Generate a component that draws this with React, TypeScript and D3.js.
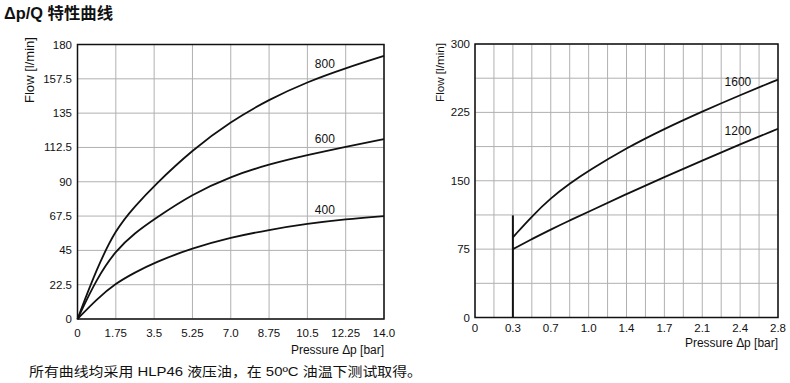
import React from "react";
import * as d3 from "d3";

// Left chart data
const leftTicksX = [0, 1.75, 3.5, 5.25, 7.0, 8.75, 10.5, 12.25, 14.0];
const leftTickLabelsX = ["0", "1.75", "3.5", "5.25", "7.0", "8.75", "10.5", "12.25", "14.0"];
const leftTicksY = [0, 22.5, 45, 67.5, 90, 112.5, 135, 157.5, 180];
const leftTickLabelsY = ["0", "22.5", "45", "67.5", "90", "112.5", "135", "157.5", "180"];
const leftX = [0, 0.875, 1.75, 2.625, 3.5, 5.25, 7.0, 8.75, 10.5, 12.25, 14];
const s800 = [0, 33, 59, 74, 87.5, 111, 129.5, 144, 155.5, 164.5, 172.5];
const s600 = [0, 26.5, 45, 56.5, 65.5, 82, 93.5, 101.5, 107.5, 113, 118];
const s400 = [0, 13, 23.5, 30.5, 37, 46.5, 53.5, 58.5, 62.5, 65.5, 67.5];
const leftSeriesNames = ["800", "600", "400"];
const leftLabelX = 11.3;

// Right chart data
const rightGridX = d3.range(0, 17).map((i) => i * 0.175);
const rightTicksX = [0, 0.35, 0.7, 1.05, 1.4, 1.75, 2.1, 2.45, 2.8];
const rightTickLabelsX = ["0", "0.3", "0.7", "1.0", "1.4", "1.7", "2.1", "2.4", "2.8"];
const rightGridY = d3.range(0, 9).map((i) => i * 37.5);
const rightTicksY = [0, 75, 150, 225, 300];
const rightTickLabelsY = ["0", "75", "150", "225", "300"];
const rightX = [0.35, 0.525, 0.7, 0.875, 1.05, 1.4, 1.75, 2.1, 2.45, 2.8];
const s1600 = [88, 111, 131, 147, 161, 186, 207, 226, 244, 261];
const s1200 = [75, 86, 96.5, 106.5, 116, 135.5, 154, 172, 190, 207];
const rightSeriesNames = ["1600", "1200"];
const rightLabelX = 2.43;
const startLine = { x: 0.35, y0: 0, y1: 112 };

const FONT = "'Liberation Sans', Arial, Helvetica, sans-serif";

function interpAt(xs: number[], ys: number[], x: number) {
  const i = Math.max(1, d3.bisectLeft(xs, x));
  const t = (x - xs[i - 1]) / (xs[i] - xs[i - 1]);
  return ys[i - 1] + t * (ys[i] - ys[i - 1]);
}

export default function App() {
  const lx = d3.scaleLinear().domain([0, 14]).range([77.5, 384]);
  const ly = d3.scaleLinear().domain([0, 180]).range([319, 44.5]);
  const rx = d3.scaleLinear().domain([0, 2.8]).range([475, 778]);
  const ry = d3.scaleLinear().domain([0, 300]).range([317.5, 44]);

  const leftLine = d3
    .line<number>()
    .x((_, i) => lx(leftX[i]))
    .y((d) => ly(d))
    .curve(d3.curveBasis);
  const rightLine = d3
    .line<number>()
    .x((_, i) => rx(rightX[i]))
    .y((d) => ry(d))
    .curve(d3.curveBasis);

  const grid = "#b0b0b0";
  const leftSeries = [s800, s600, s400];
  const rightSeries = [s1600, s1200];

  return (
    <svg
      width={790}
      height={383}
      style={{ position: "absolute", left: 0, top: 0, background: "#fff" }}
      fontFamily={FONT}
    >
      <text x={4} y={19} fontSize={16} fontWeight="bold" textLength={109} lengthAdjust="spacingAndGlyphs"
        fontFamily={`${FONT}, 'Noto Sans CJK SC'`} fill="#111">
        Δp/Q 特性曲线
      </text>

      {/* LEFT CHART */}
      <g>
        {leftTicksX.map((t) => (
          <line key={"lgx" + t} x1={lx(t)} x2={lx(t)} y1={ly(0)} y2={ly(180)} stroke={grid} strokeWidth={1} />
        ))}
        {leftTicksY.map((t) => (
          <line key={"lgy" + t} x1={lx(0)} x2={lx(14)} y1={ly(t)} y2={ly(t)} stroke={grid} strokeWidth={1} />
        ))}
        <rect x={lx(0)} y={ly(180)} width={lx(14) - lx(0)} height={ly(0) - ly(180)} fill="none" stroke="#111" strokeWidth={1.5} />
        {leftSeries.map((s, k) => (
          <path key={"ls" + k} d={leftLine(s) || ""} fill="none" stroke="#111" strokeWidth={1.8} />
        ))}
        {leftSeriesNames.map((n, k) => (
          <text key={"ln" + n} x={lx(leftLabelX)} y={ly(interpAt(leftX, leftSeries[k], leftLabelX)) - 8}
            fontSize={12} textAnchor="middle" fill="#111">
            {n}
          </text>
        ))}
        {leftTicksX.map((t, i) => (
          <text key={"ltx" + t} x={lx(t)} y={337} fontSize={11.5} textAnchor="middle" fill="#111">
            {leftTickLabelsX[i]}
          </text>
        ))}
        {leftTicksY.map((t, i) => (
          <text key={"lty" + t} x={72} y={ly(t) + 4} fontSize={11.5} textAnchor="end" fill="#111">
            {leftTickLabelsY[i]}
          </text>
        ))}
        <text x={384} y={354} fontSize={12} textAnchor="end" textLength={93} lengthAdjust="spacingAndGlyphs" fill="#111">
          Pressure Δp [bar]
        </text>
        <text transform={`translate(34,37) rotate(-90)`} fontSize={12} textAnchor="end" textLength={66}
          lengthAdjust="spacingAndGlyphs" fill="#111">
          Flow [l/min]
        </text>
      </g>

      {/* RIGHT CHART */}
      <g>
        {rightGridX.map((t) => (
          <line key={"rgx" + t} x1={rx(t)} x2={rx(t)} y1={ry(0)} y2={ry(300)} stroke={grid} strokeWidth={1} />
        ))}
        {rightGridY.map((t) => (
          <line key={"rgy" + t} x1={rx(0)} x2={rx(2.8)} y1={ry(t)} y2={ry(t)} stroke={grid} strokeWidth={1} />
        ))}
        <rect x={rx(0)} y={ry(300)} width={rx(2.8) - rx(0)} height={ry(0) - ry(300)} fill="none" stroke="#111" strokeWidth={1.5} />
        <line x1={rx(startLine.x)} x2={rx(startLine.x)} y1={ry(startLine.y0)} y2={ry(startLine.y1)} stroke="#111" strokeWidth={2} />
        {rightSeries.map((s, k) => (
          <path key={"rs" + k} d={rightLine(s) || ""} fill="none" stroke="#111" strokeWidth={1.8} />
        ))}
        {rightSeriesNames.map((n, k) => (
          <text key={"rn" + n} x={rx(rightLabelX)} y={ry(interpAt(rightX, rightSeries[k], rightLabelX)) - 10}
            fontSize={12} textAnchor="middle" fill="#111">
            {n}
          </text>
        ))}
        {rightTicksX.map((t, i) => (
          <text key={"rtx" + t} x={rx(t)} y={332} fontSize={11.5} textAnchor="middle" fill="#111">
            {rightTickLabelsX[i]}
          </text>
        ))}
        {rightTicksY.map((t, i) => (
          <text key={"rty" + t} x={470} y={ry(t) + 4} fontSize={11.5} textAnchor="end" fill="#111">
            {rightTickLabelsY[i]}
          </text>
        ))}
        <text x={778} y={347} fontSize={12} textAnchor="end" textLength={93} lengthAdjust="spacingAndGlyphs" fill="#111">
          Pressure Δp [bar]
        </text>
        <text transform={`translate(444,43) rotate(-90)`} fontSize={11.5} textAnchor="end" textLength={59}
          lengthAdjust="spacingAndGlyphs" fill="#111">
          Flow [l/min]
        </text>
      </g>

      <text x={29} y={376} fontSize={13} textLength={393} lengthAdjust="spacingAndGlyphs"
        fontFamily={`${FONT}, 'Noto Sans CJK SC'`} fill="#111">
        所有曲线均采用 HLP46 液压油，在 50ºC 油温下测试取得。
      </text>
    </svg>
  );
}
